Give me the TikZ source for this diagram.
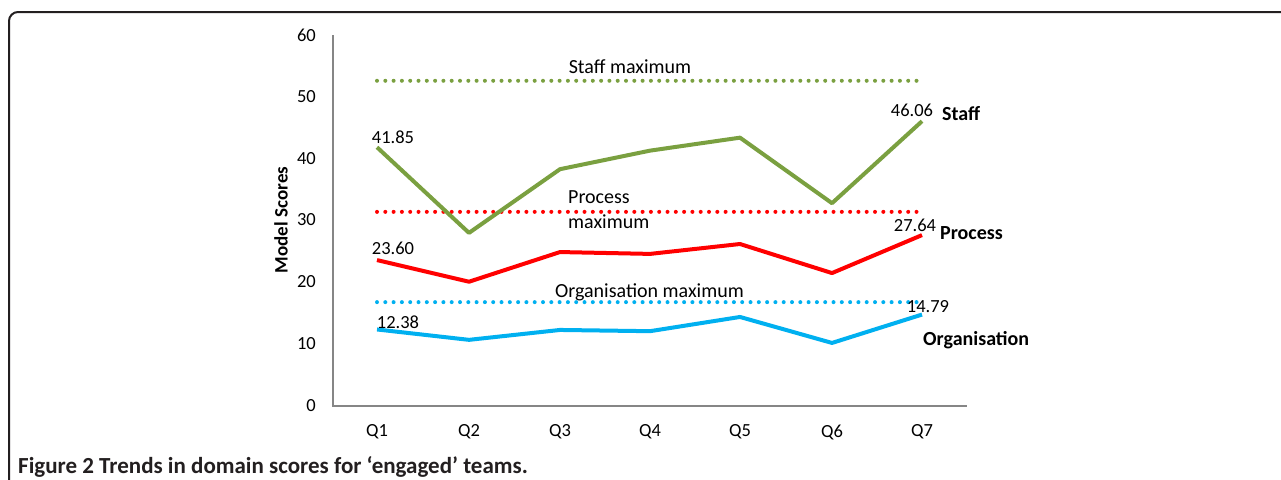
\documentclass[tikz,border=0pt]{standalone}
\usepackage{fontspec}
\setmainfont{Carlito}
\definecolor{staffc}{HTML}{7AA040}
\definecolor{procc}{HTML}{FF0000}
\definecolor{orgc}{HTML}{00B0F0}
\definecolor{axisc}{HTML}{868686}
\definecolor{framec}{HTML}{231F20}
\begin{document}
\begin{tikzpicture}[x=1pt,y=-1pt, font=\fontsize{18.5}{22}\selectfont,
  frame/.style={draw=framec, line width=2pt},
  axisline/.style={draw=axisc, line width=2.2pt},
  series/.style={line width=4pt, line join=round},
  maxline/.style={line width=4pt, line cap=round, dash pattern=on 0pt off 8.3pt},
  ticklab/.style={anchor=east, inner sep=0pt},
  catlab/.style={anchor=center, inner sep=0pt},
  vallab/.style={inner sep=0pt},
  serieslab/.style={anchor=west, inner sep=0pt, font=\fontsize{20}{24}\selectfont\bfseries},
  maxlab/.style={inner sep=0pt, font=\fontsize{20}{25}\selectfont}]
\useasboundingbox (0,0) rectangle (1281,479);
\fill[white] (0,0) rectangle (1281,479);
\draw[frame, rounded corners=9pt] (1283,12) -- (9,12) -- (9,482);
% axes
\coordinate (ytop) at (333,35);
\coordinate (orig) at (333,406);
\coordinate (xend) at (967,406);
\draw[axisline] (ytop) -- (orig) -- (xend);
% tick labels
\foreach \v/\yy in {0/406,10/344,20/282,30/220,40/159,50/97,60/35}
  \node[ticklab] (t\v) at (316,\yy) {\v};
\foreach \q/\xx in {1/377,2/469,3/560,4/650,5/740,6/832,7/922}
  \node[catlab] (q\q) at (\xx,432) {Q\q};
\node[rotate=90, inner sep=0pt, font=\fontsize{19}{22}\selectfont\bfseries] (ylab) at (281,220) {Model Scores};
\begin{scope}[shift={(0,406)}, y=6.183pt]
  % max lines
  \coordinate (sm1) at (377,52.6); \coordinate (sm2) at (917,52.6);
  \coordinate (pm1) at (377,31.4); \coordinate (pm2) at (922,31.4);
  \coordinate (om1) at (377,16.8); \coordinate (om2) at (922,16.8);
  \draw[maxline, staffc] (sm1) -- (sm2);
  \draw[maxline, procc] (pm1) -- (pm2);
  \draw[maxline, orgc] (om1) -- (om2);
  % series points
  \foreach \i/\xx/\s/\p/\o in {1/377/41.85/23.60/12.38, 2/469/28.0/20.1/10.7, 3/560/38.3/24.9/12.3,
      4/650/41.3/24.6/12.1, 5/740/43.4/26.2/14.4, 6/832/32.8/21.5/10.2, 7/922/46.06/27.64/14.79}{
    \coordinate (s\i) at (\xx,\s);
    \coordinate (p\i) at (\xx,\p);
    \coordinate (o\i) at (\xx,\o);
  }
  \draw[series, staffc] (s1) -- (s2) -- (s3) -- (s4) -- (s5) -- (s6) -- (s7);
  \draw[series, procc] (p1) -- (p2) -- (p3) -- (p4) -- (p5) -- (p6) -- (p7);
  \draw[series, orgc] (o1) -- (o2) -- (o3) -- (o4) -- (o5) -- (o6) -- (o7);
\end{scope}
% value labels
\node[vallab] (v1) at (393,137) {41.85};
\node[vallab] (v2) at (912,110) {46.06};
\node[vallab] (v3) at (393,248) {23.60};
\node[vallab] (v4) at (915,225) {27.64};
\node[vallab] (v5) at (398,322) {12.38};
\node[vallab] (v6) at (928,307) {14.79};
% series labels
\node[serieslab] (ls) at (942,114) {Staff};
\node[serieslab] (lp) at (940,233) {Process};
\node[serieslab] (lo) at (923,340) {Organisation};
% maximum labels
\node[maxlab] (msl) at (630,67) {Staff maximum};
\node[maxlab, anchor=west, align=left] (mpl) at (568,209.5) {Process\\maximum};
\node[maxlab, anchor=east] (mol) at (744,292) {Organisation maximum};
% caption
\node[anchor=west, inner sep=0pt, text=framec, font=\fontsize{23}{27}\selectfont\bfseries] (cap) at (18,467) {Figure 2 Trends in domain scores for ‘engaged’ teams.};
\end{tikzpicture}
\end{document}
